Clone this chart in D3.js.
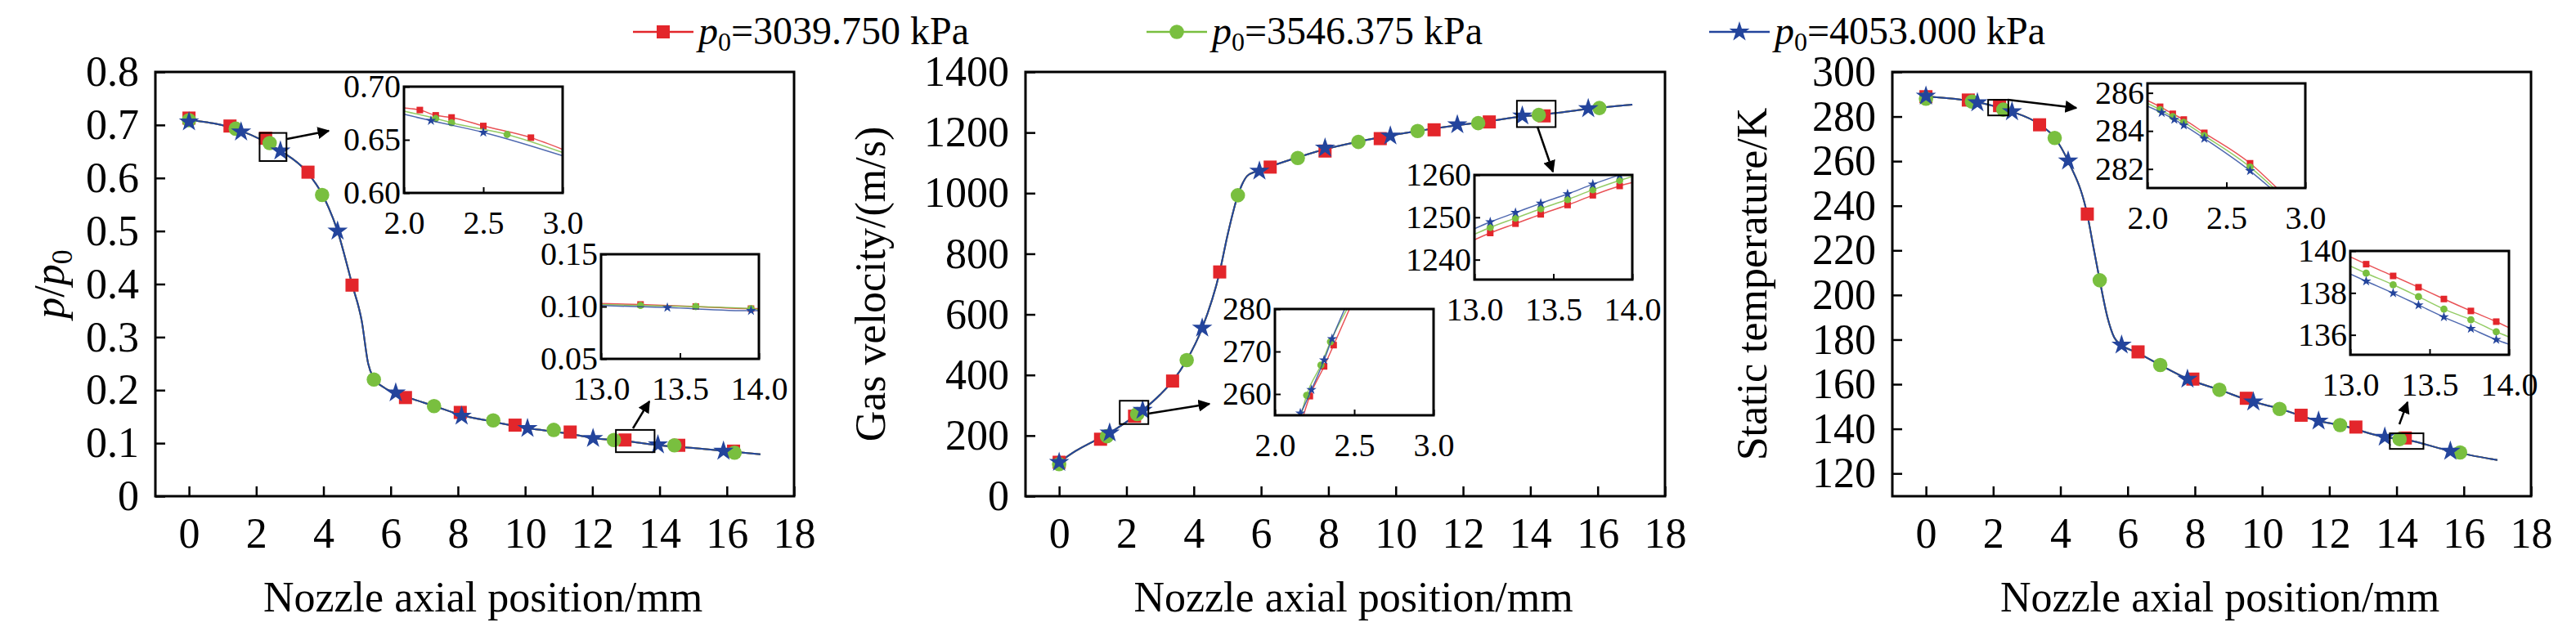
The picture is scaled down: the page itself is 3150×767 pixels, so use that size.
<!DOCTYPE html>
<html><head><meta charset="utf-8">
<script src="https://cdn.jsdelivr.net/npm/d3@7"></script>
<style>body{margin:0;background:#fff}</style>
</head><body><svg id="c" width="3150" height="767"></svg>
<script>
const seriesNames = ['3039.750 kPa', '3546.375 kPa', '4053.000 kPa'];
const colors = ['#e3262b', '#79bf3f', '#23449c'];
const xTicks = [0, 2, 4, 6, 8, 10, 12, 14, 16, 18];

// panel 1: p/p0
const p1Ticks = [0, 0.1, 0.2, 0.3, 0.4, 0.5, 0.6, 0.7, 0.8];
const p1Red = [[0,0.713],[1.22,0.698],[2.28,0.675],[3.54,0.611],[4.85,0.398],[6.44,0.186],[8.07,0.158],[9.7,0.134],[11.34,0.121],[12.97,0.106],[14.57,0.096],[16.2,0.085]];
const p1Green = [[0,0.709],[1.39,0.693],[2.4,0.666],[3.96,0.568],[5.5,0.220],[7.29,0.170],[9.05,0.143],[10.85,0.125],[12.64,0.106],[14.44,0.096],[16.23,0.082]];
const p1Blue = [[0,0.706],[1.55,0.687],[2.72,0.651],[4.42,0.500],[6.15,0.195],[8.11,0.151],[10.07,0.128],[12.02,0.109],[13.95,0.097],[15.9,0.085]];
const p1Line = [[0,0.71],[1.5,0.69],[2.7,0.652],[3.5,0.612],[4.0,0.565],[4.42,0.50],[4.85,0.40],[5.14,0.33],[5.33,0.25],[5.5,0.222],[5.8,0.205],[6.44,0.188],[7.3,0.17],[8.1,0.153],[9.0,0.141],[10.0,0.129],[11.3,0.118],[12.0,0.11],[13.0,0.104],[14.0,0.096],[15.0,0.091],[16.0,0.085],[17.0,0.079]];
const p1InA = [[[2,0.680],[2.1,0.678],[2.2,0.673],[2.3,0.671],[2.5,0.663],[2.8,0.652],[3,0.641]],
               [[2,0.677],[2.2,0.670],[2.3,0.666],[2.65,0.655],[3,0.638]],
               [[2,0.674],[2.17,0.668],[2.5,0.657],[3,0.635]]];
const p1InB = [[[13,0.103],[13.25,0.102],[13.6,0.100],[13.95,0.098],[14,0.098]],
               [[13,0.102],[13.25,0.101],[13.6,0.100],[13.95,0.098],[14,0.097]],
               [[13,0.101],[13.42,0.099],[13.95,0.096],[14,0.096]]];

// panel 2: gas velocity
const p2Ticks = [0, 200, 400, 600, 800, 1000, 1200, 1400];
const p2Red = [[0,112],[1.23,188],[2.24,264],[3.37,380],[4.77,740],[6.27,1086],[7.9,1139],[9.54,1180],[11.14,1209],[12.78,1235],[14.41,1255]];
const p2Green = [[0,106],[1.42,198],[2.32,271],[3.79,449],[5.31,993],[7.09,1116],[8.89,1169],[10.65,1205],[12.45,1231],[14.25,1258],[16.05,1281]];
const p2Blue = [[0,112],[1.5,209],[2.48,284],[4.25,555],[5.95,1073],[7.9,1149],[9.84,1189],[11.83,1226],[13.76,1255],[15.72,1279]];
const p2Line = [[0,112],[0.5,150],[1.0,180],[1.5,209],[2.0,245],[2.48,284],[3.0,335],[3.37,380],[3.79,449],[4.25,555],[4.77,740],[5.0,860],[5.31,993],[5.42,1025],[5.59,1057],[5.88,1073],[6.27,1088],[7.09,1118],[7.9,1145],[8.89,1170],[9.84,1190],[10.65,1205],[11.83,1224],[12.78,1238],[13.76,1253],[14.41,1260],[15.72,1278],[17.03,1292]];
const p2InA = [[[13,1244.7],[13.10,1246.3],[13.26,1248.5],[13.42,1250.7],[13.59,1252.9],[13.75,1255.2],[13.92,1257.4],[14,1258.2]],
               [[13,1246],[13.10,1247.6],[13.26,1249.8],[13.42,1252.0],[13.59,1254.2],[13.75,1256.5],[13.92,1258.7],[14,1259.6]],
               [[13,1247.3],[13.10,1248.9],[13.26,1251.1],[13.42,1253.3],[13.59,1255.5],[13.75,1257.8],[13.92,1260],[14,1261]]];
const p2InB = [[[2.18,255],[2.22,259.5],[2.31,266.5],[2.37,271.5],[2.47,280]],
               [[2.165,255],[2.2,259.7],[2.29,266.8],[2.35,272.3],[2.455,280]],
               [[2.15,255],[2.16,255.5],[2.23,261],[2.31,268],[2.36,273],[2.44,280]]];

// panel 3: static temperature
const p3Ticks = [120, 140, 160, 180, 200, 220, 240, 260, 280, 300];
const p3Red = [[0,288.9],[1.26,287.4],[2.19,284.9],[3.38,276.3],[4.8,236.3],[6.31,174.5],[7.94,162.3],[9.53,153.7],[11.16,146.1],[12.79,140.8],[14.26,135.9]];
const p3Green = [[0,288],[1.37,286.7],[2.3,283.1],[3.83,270.4],[5.17,206.6],[6.97,168.6],[8.73,157.5],[10.52,148.9],[12.32,141.7],[14.09,135.4],[15.89,129.4]];
const p3Blue = [[0,289.2],[1.53,286.2],[2.56,282.2],[4.23,260.1],[5.82,177.6],[7.78,162.3],[9.74,152.1],[11.68,143.5],[13.65,136.3],[15.6,130]];
const p3Line = [[0,289],[1.5,286.5],[2.5,282.5],[3.38,276.5],[3.83,270.5],[4.23,260],[4.8,236],[5.0,220],[5.17,206.6],[5.4,190],[5.6,181],[5.82,177.6],[6.31,174],[6.97,168.6],[7.8,162.3],[8.73,157.5],[9.74,152.1],[10.52,149],[11.68,143.5],[12.32,141.7],[13.65,136.3],[14.26,135.2],[15.6,130],[17.0,126]];
const p3InA = [[[2,285.6],[2.08,285.27],[2.16,284.9],[2.23,284.6],[2.36,283.9],[2.65,282.3],[2.82,281]],
               [[2,285.45],[2.08,285.12],[2.16,284.75],[2.23,284.45],[2.36,283.75],[2.65,282.1],[2.8,281]],
               [[2,285.3],[2.09,284.96],[2.17,284.6],[2.23,284.3],[2.36,283.6],[2.65,281.9],[2.78,281]]];
const p3InB = [[[13,139.72],[13.10,139.37],[13.27,138.81],[13.43,138.27],[13.59,137.71],[13.76,137.14],[13.92,136.63],[14,136.34]],
               [[13,139.28],[13.10,138.94],[13.27,138.39],[13.43,137.82],[13.59,137.23],[13.76,136.72],[13.92,136.15],[14,135.9]],
               [[13,138.9],[13.10,138.56],[13.27,137.99],[13.43,137.42],[13.59,136.85],[13.76,136.30],[13.92,135.77],[14,135.55]]];

const FONT = "'Liberation Serif', 'Times New Roman', Times, 'DejaVu Serif', serif";
const svg = d3.select('#c').style('font-family', FONT);
const line = d3.line().curve(d3.curveMonotoneX);

function marker(g, i, x, y, s) {
  const c = colors[i];
  if (i === 0) g.append('rect').attr('x', x - s/2).attr('y', y - s/2).attr('width', s).attr('height', s).attr('fill', c);
  else if (i === 1) g.append('circle').attr('cx', x).attr('cy', y).attr('r', s*0.55).attr('fill', c);
  else g.append('path').attr('d', d3.symbol(d3.symbolStar, s*s*0.75)()).attr('transform', `translate(${x},${y})`).attr('fill', c);
}

function frame(g, x, y, w, h) {
  g.append('rect').attr('x', x).attr('y', y).attr('width', w).attr('height', h)
    .attr('fill', 'none').attr('stroke', '#000').attr('stroke-width', 3);
}

function styleAxis(a, size, sw) {
  a.attr('font-family', null).style('font-family', FONT);
  a.select('.domain').remove();
  a.selectAll('line').attr('stroke-width', sw);
  a.selectAll('text').attr('font-size', size).attr('fill', '#000').style('font-family', FONT);
}

function panel(p) {
  const g = svg.append('g');
  const x = d3.scaleLinear().domain([-1, 18]).range([p.x0, p.x1]);
  const y = d3.scaleLinear().domain(p.yDom).range([607, 88]);
  g.append('g').attr('transform', 'translate(0,607)')
    .call(d3.axisBottom(x).tickValues(xTicks).tickSize(-12).tickPadding(26))
    .call(a => styleAxis(a, 52, 2.5));
  g.append('g').attr('transform', `translate(${p.x0},0)`)
    .call(d3.axisLeft(y).tickValues(p.yTicks).tickSize(-12).tickPadding(20).tickFormat(p.fmt))
    .call(a => styleAxis(a, 52, 2.5));
  frame(g, p.x0, 88, p.x1 - p.x0, 519);
  [0, 1, 2].forEach(i => g.append('path').attr('d', line(p.line.map(d => [x(d[0]), y(d[1])])))
    .attr('fill', 'none').attr('stroke', colors[i]).attr('stroke-width', 2));
  [0, 1, 2].forEach(i => p.pts[i].forEach(d => marker(g, i, x(d[0]), y(d[1]), 16)));
  g.append('text').attr('x', (p.x0 + p.x1) / 2 + 10).attr('y', 748).attr('text-anchor', 'middle')
    .attr('font-size', 52).text('Nozzle axial position/mm');
  const yt = g.append('text').attr('transform', `translate(${p.ytx},${(88 + 607) / 2}) rotate(-90)`)
    .attr('text-anchor', 'middle').attr('font-size', 52);
  p.ytitle(yt);
  p.insets.forEach(ins => {
    g.append('rect').attr('x', x(ins.xd[0])).attr('y', y(ins.yb[1])).attr('width', x(ins.xd[1]) - x(ins.xd[0]))
      .attr('height', y(ins.yb[0]) - y(ins.yb[1])).attr('fill', 'none').attr('stroke', '#000').attr('stroke-width', 2);
    const [a, b] = ins.arrow;
    g.append('line').attr('x1', a[0]).attr('y1', a[1]).attr('x2', b[0]).attr('y2', b[1])
      .attr('stroke', '#000').attr('stroke-width', 2.5).attr('marker-end', 'url(#arr)');
    inset(g, ins);
  });
}

function inset(g, ins) {
  const x = d3.scaleLinear().domain(ins.dx).range([ins.box[0], ins.box[2]]);
  const y = d3.scaleLinear().domain(ins.dy).range([ins.box[3], ins.box[1]]);
  const id = 'cl' + Math.round(ins.box[0]);
  svg.append('clipPath').attr('id', id).append('rect').attr('x', ins.box[0]).attr('y', ins.box[1])
    .attr('width', ins.box[2] - ins.box[0]).attr('height', ins.box[3] - ins.box[1]);
  const c = g.append('g').attr('clip-path', `url(#${id})`);
  [0, 1, 2].forEach(i => {
    c.append('path').attr('d', line(ins.data[i].map(d => [x(d[0]), y(d[1])])))
      .attr('fill', 'none').attr('stroke', colors[i]).attr('stroke-width', 1.5).attr('opacity', 0.8);
    ins.data[i].slice(1, -1).forEach(d => marker(c, i, x(d[0]), y(d[1]), 8));
  });
  g.append('g').attr('transform', `translate(0,${ins.box[3]})`)
    .call(d3.axisBottom(x).tickValues(ins.xt).tickSize(-7).tickPadding(22).tickFormat(d3.format('.1f')))
    .call(a => styleAxis(a, 40, 2));
  g.append('g').attr('transform', `translate(${ins.box[0]},0)`)
    .call(d3.axisLeft(y).tickValues(ins.yt).tickSize(-7).tickPadding(4).tickFormat(ins.fmt))
    .call(a => styleAxis(a, 40, 2));
  frame(g, ins.box[0], ins.box[1], ins.box[2] - ins.box[0], ins.box[3] - ins.box[1]);
}

svg.append('defs').append('marker').attr('id', 'arr').attr('viewBox', '0 0 10 10').attr('refX', 9).attr('refY', 5)
  .attr('markerWidth', 6).attr('markerHeight', 6).attr('orient', 'auto')
  .append('path').attr('d', 'M0,0L10,5L0,10z').attr('fill', '#000');

panel({ x0: 190, x1: 971, yDom: [0, 0.8], yTicks: p1Ticks, fmt: d3.format('.1~f'), ytx: 78,
  line: p1Line, pts: [p1Red, p1Green, p1Blue],
  ytitle: t => { t.append('tspan').attr('font-style', 'italic').text('p'); t.append('tspan').text('/');
    t.append('tspan').attr('font-style', 'italic').text('p'); t.append('tspan').attr('font-size', 36).attr('dy', 10).text('0'); },
  insets: [
    { xd: [2.1, 2.9], yb: [0.632, 0.685], arrow: [[351, 170], [402, 160]], box: [494, 106, 688, 236],
      dx: [2, 3], dy: [0.6, 0.7], xt: [2, 2.5, 3], yt: [0.6, 0.65, 0.7], fmt: d3.format('.2f'), data: p1InA },
    { xd: [12.7, 13.85], yb: [0.083, 0.125], arrow: [[774, 524], [794, 491]], box: [735, 311, 928, 439],
      dx: [13, 14], dy: [0.05, 0.15], xt: [13, 13.5, 14], yt: [0.05, 0.1, 0.15], fmt: d3.format('.2f'), data: p1InB }
  ] });

panel({ x0: 1254, x1: 2036, yDom: [0, 1400], yTicks: p2Ticks, fmt: d3.format('d'), ytx: 1082,
  line: p2Line, pts: [p2Red, p2Green, p2Blue], ytitle: t => t.text('Gas velocity/(m/s)'),
  insets: [
    { xd: [1.8, 2.65], yb: [238, 315], arrow: [[1404, 506], [1479, 494]], box: [1559, 378, 1753, 508],
      dx: [2, 3], dy: [255, 280], xt: [2, 2.5, 3], yt: [260, 270, 280], fmt: d3.format('d'), data: p2InB },
    { xd: [13.6, 14.75], yb: [1218, 1305], arrow: [[1880, 155], [1899, 210]], box: [1803, 214, 1996, 342],
      dx: [13, 14], dy: [1235.3, 1260], xt: [13, 13.5, 14], yt: [1240, 1250, 1260], fmt: d3.format('d'), data: p2InA }
  ] });

panel({ x0: 2314, x1: 3095, yDom: [109.8, 300], yTicks: p3Ticks, fmt: d3.format('d'), ytx: 2160,
  line: p3Line, pts: [p3Red, p3Green, p3Blue], ytitle: t => t.text('Static temperature/K'),
  insets: [
    { xd: [1.85, 2.45], yb: [280.5, 287.5], arrow: [[2455, 122], [2539, 132]], box: [2626, 102, 2819, 230],
      dx: [2, 3], dy: [281, 286.5], xt: [2, 2.5, 3], yt: [282, 284, 286], fmt: d3.format('d'), data: p3InA },
    { xd: [13.8, 14.8], yb: [131, 138], arrow: [[2934, 519], [2944, 492]], box: [2874, 307, 3068, 434],
      dx: [13, 14], dy: [135.05, 140], xt: [13, 13.5, 14], yt: [136, 138, 140], fmt: d3.format('d'), data: p3InB }
  ] });

const legX = [774, 1402, 2090];
seriesNames.forEach((n, i) => {
  const g = svg.append('g');
  g.append('line').attr('x1', legX[i]).attr('x2', legX[i] + 74).attr('y1', 39).attr('y2', 39)
    .attr('stroke', colors[i]).attr('stroke-width', 2.5);
  marker(g, i, legX[i] + 37, 39, 16);
  const t = g.append('text').attr('x', legX[i] + 80).attr('y', 54).attr('font-size', 48);
  t.append('tspan').attr('font-style', 'italic').text('p');
  t.append('tspan').attr('font-size', 32).attr('dy', 8).text('0');
  t.append('tspan').attr('dy', -8).text('=' + n);
});
</script></body></html>
